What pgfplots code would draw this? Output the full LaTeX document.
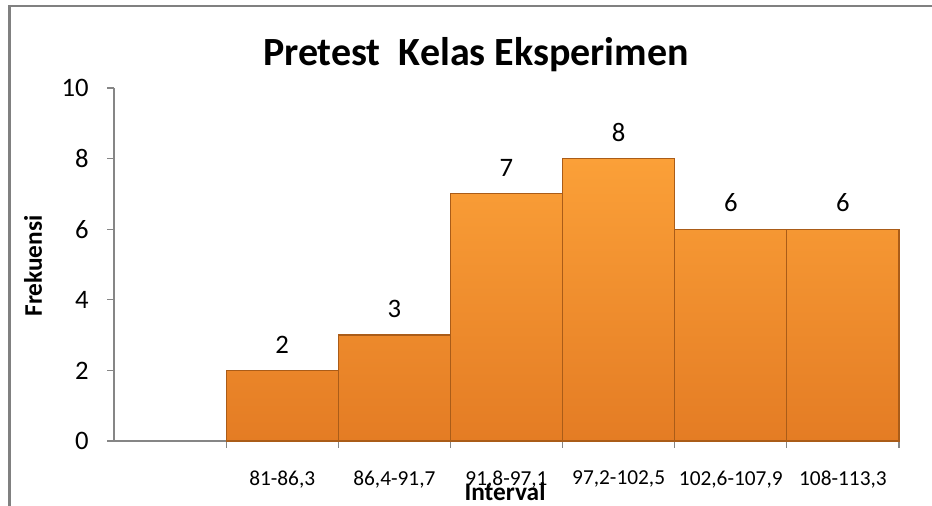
\documentclass[border=0pt]{standalone}
\usepackage{pgfplots}
\pgfplotsset{compat=1.18}
\usepackage{fontspec}
\setmainfont{Carlito}
\definecolor{axgray}{RGB}{134,134,134}
\definecolor{framegray}{RGB}{128,128,128}
\definecolor{bartop}{RGB}{251,160,56}
\definecolor{barbot}{RGB}{228,124,36}
\definecolor{baredge}{RGB}{170,92,24}
\begin{document}
\begin{tikzpicture}[x=0.75pt,y=0.75pt]
% picture frame in pixel units, y measured from bottom
\useasboundingbox (0,0) rectangle (932,506);
\fill[framegray] (8,0) rectangle (10.5,501);
\fill[framegray] (8,498.5) rectangle (932,501);
\begin{axis}[
  at={(85.5pt,48.75pt)}, anchor=south west,
  width=588.75pt, height=264.75pt, scale only axis,
  xmin=-0.5, xmax=6.5, ymin=0, ymax=10,
  axis x line=bottom, axis y line=left,
  axis line style={axgray, -, line width=0.8pt},
  tick style={axgray, line width=0.8pt},
  tick align=outside, major tick length=5pt,
  ytick={0,2,...,10},
  xtick={0.5,1.5,...,6.5}, xticklabels={},
  extra x ticks={1,2,3,4,5,6},
  extra x tick labels={{81-86,3},{86,4-91,7},{91,8-97,1},{97,2-102,5},{102,6-107,9},{108-113,3}},
  extra x tick style={major tick length=0pt,
    tick label style={font=\fontsize{16}{19}\selectfont, yshift=-19pt}},
  yticklabel style={font=\fontsize{20}{24}\selectfont, xshift=-10.5pt},
  /pgf/number format/assume math mode=true,
  clip=false,
]
\addplot[ybar, bar width=1, draw=baredge, line width=0.9pt,
  top color=bartop, bottom color=barbot,
  nodes near coords,
  every node near coord/.append style={font=\fontsize{20}{24}\selectfont, black, yshift=9pt}]
  coordinates {(1,2) (2,3) (3,7) (4,8) (5,6) (6,6)};
\end{axis}
\node[font=\fontsize{30}{36}\selectfont\bfseries] at (476,451) {Pretest\ \ Kelas Eksperimen};
\node[font=\fontsize{19}{22}\selectfont\bfseries, rotate=90] at (33,240) {Frekuensi};
\node[font=\fontsize{19}{22}\selectfont\bfseries] at (505,14) {Interval};
\end{tikzpicture}
\end{document}
